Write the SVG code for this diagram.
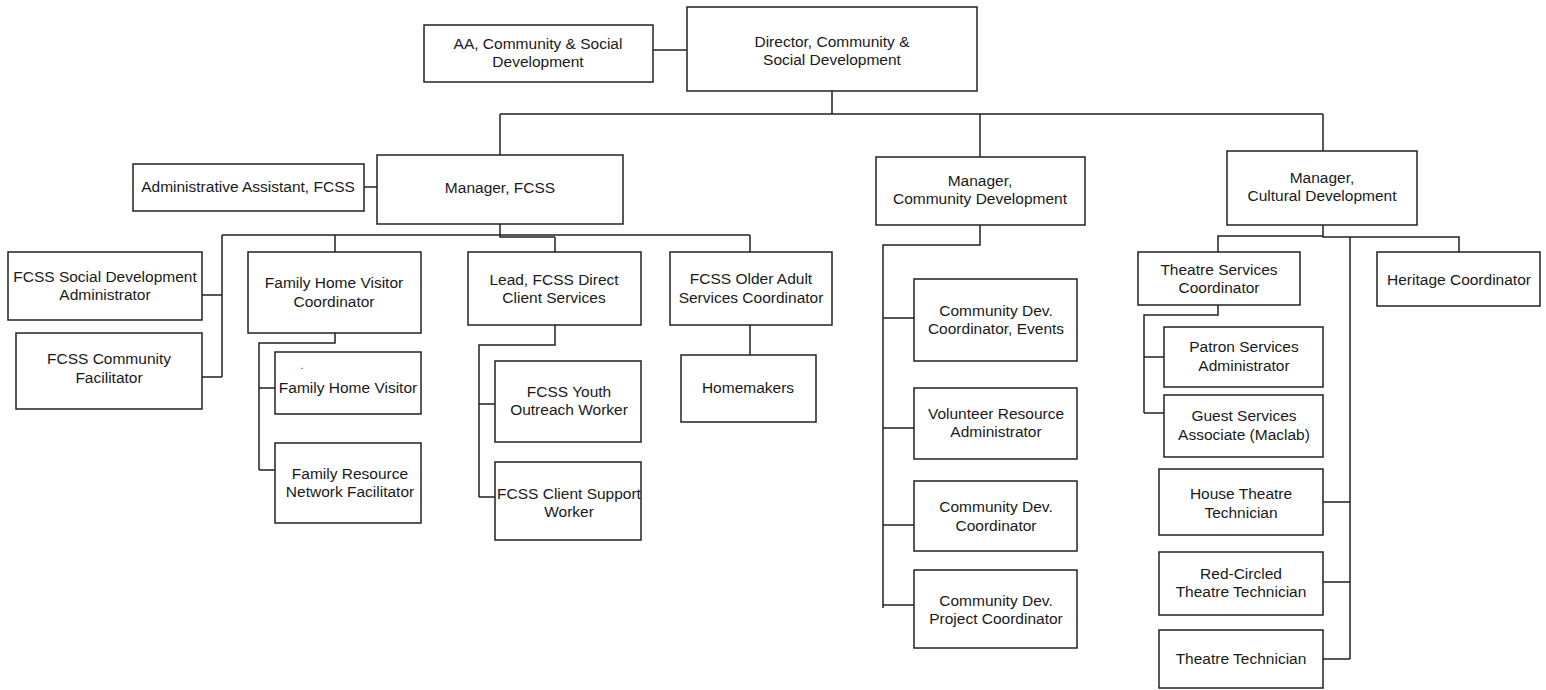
<svg xmlns="http://www.w3.org/2000/svg" width="1546" height="690" viewBox="0 0 1546 690">
  <style>
    .box rect { fill: #ffffff; stroke: #222222; stroke-width: 1.5; }
    .box text { font-family: "Liberation Sans", Arial, sans-serif; font-size: 15.5px; fill: #1a1a1a; text-anchor: middle; }
    #connectors path { fill: none; stroke: #222222; stroke-width: 1.5; }
  </style>
  <rect width="1546" height="690" fill="#ffffff"/>

  <!-- reporting lines -->
  <g id="connectors">
    <path d="M653,50 H687"/>
    <path d="M832,91 V114 M500,114 H1323 M500,114 V155 M980,114 V157 M1323,114 V151"/>
    <path d="M364,187 H377"/>
    <path d="M500,224 V235 M222,235 H750 M500,224 V237 H555 M335,235 V252 M555,237 V252 M750,235 V252"/>
    <path d="M222,235 V377 M202,295 H222 M202,377 H222"/>
    <path d="M335,333 V343 H259 V470 M259,388 H275 M259,470 H275"/>
    <path d="M555,325 V345 H479 V497 M479,404 H495 M479,497 H495"/>
    <path d="M750,325 V355"/>
    <path d="M980,225 V245 H883 V608 M883,318 H914 M883,428 H914 M883,525 H914 M883,605 H916"/>
    <path d="M1323,225 V236 H1218 V252 M1323,236 V237 H1459 V252 M1350,237 V659"/>
    <path d="M1218,305 V315 H1144 V413 M1144,357 H1164 M1144,413 H1164"/>
    <path d="M1323,502 H1350 M1323,582 H1350 M1323,659 H1350"/>
  </g>

  <g id="director" class="box"><rect x="687" y="7" width="290" height="84"/><text x="832" y="47">Director, Community &amp;</text><text x="832" y="65">Social Development</text></g>
  <g id="aa-csd" class="box"><rect x="424" y="25" width="229" height="57"/><text x="538" y="49">AA, Community &amp; Social</text><text x="538" y="67">Development</text></g>

  <g id="manager-fcss" class="box"><rect x="377" y="155" width="246" height="69"/><text x="500" y="193">Manager, FCSS</text></g>
  <g id="admin-fcss" class="box"><rect x="133" y="164" width="231" height="47"/><text x="248" y="192">Administrative Assistant, FCSS</text></g>
  <g id="manager-cd" class="box"><rect x="876" y="157" width="209" height="68"/><text x="980" y="186">Manager,</text><text x="980" y="204">Community Development</text></g>
  <g id="manager-cult" class="box"><rect x="1227" y="151" width="190" height="74"/><text x="1322" y="183">Manager,</text><text x="1322" y="201">Cultural Development</text></g>

  <g id="fcss-sda" class="box"><rect x="8" y="252" width="194" height="68"/><text x="105" y="282">FCSS Social Development</text><text x="105" y="300">Administrator</text></g>
  <g id="fcss-cf" class="box"><rect x="16" y="333" width="186" height="76"/><text x="109" y="364">FCSS Community</text><text x="109" y="383">Facilitator</text></g>
  <g id="fhv-coord" class="box"><rect x="248" y="252" width="173" height="81"/><text x="334" y="288">Family Home Visitor</text><text x="334" y="307">Coordinator</text></g>
  <g id="lead-dcs" class="box"><rect x="468" y="252" width="173" height="73"/><text x="554" y="285">Lead, FCSS Direct</text><text x="554" y="303">Client Services</text></g>
  <g id="older-adult" class="box"><rect x="670" y="252" width="162" height="73"/><text x="751" y="284">FCSS Older Adult</text><text x="751" y="303">Services Coordinator</text></g>

  <g id="fhv" class="box"><rect x="275" y="352" width="146" height="62"/><text x="302" y="369" style="font-size:10px">.</text><text x="348" y="393">Family Home Visitor</text></g>
  <g id="frn" class="box"><rect x="275" y="443" width="146" height="80"/><text x="350" y="479">Family Resource</text><text x="350" y="497">Network Facilitator</text></g>
  <g id="youth" class="box"><rect x="495" y="361" width="146" height="81"/><text x="569" y="397">FCSS Youth</text><text x="569" y="415">Outreach Worker</text></g>
  <g id="client-support" class="box"><rect x="495" y="462" width="146" height="78"/><text x="569" y="499">FCSS Client Support</text><text x="569" y="517">Worker</text></g>
  <g id="homemakers" class="box"><rect x="681" y="355" width="135" height="67"/><text x="748" y="393">Homemakers</text></g>

  <g id="cd-events" class="box"><rect x="914" y="279" width="163" height="82"/><text x="996" y="316">Community Dev.</text><text x="996" y="334">Coordinator, Events</text></g>
  <g id="volunteer" class="box"><rect x="914" y="388" width="163" height="71"/><text x="996" y="419">Volunteer Resource</text><text x="996" y="437">Administrator</text></g>
  <g id="cd-coord" class="box"><rect x="914" y="481" width="163" height="70"/><text x="996" y="512">Community Dev.</text><text x="996" y="531">Coordinator</text></g>
  <g id="cd-project" class="box"><rect x="914" y="570" width="163" height="78"/><text x="996" y="606">Community Dev.</text><text x="996" y="624">Project Coordinator</text></g>

  <g id="theatre-services" class="box"><rect x="1138" y="252" width="162" height="53"/><text x="1219" y="275">Theatre Services</text><text x="1219" y="293">Coordinator</text></g>
  <g id="heritage" class="box"><rect x="1377" y="252" width="163" height="54"/><text x="1459" y="285">Heritage Coordinator</text></g>
  <g id="patron" class="box"><rect x="1164" y="327" width="159" height="60"/><text x="1244" y="352">Patron Services</text><text x="1244" y="371">Administrator</text></g>
  <g id="guest" class="box"><rect x="1164" y="395" width="159" height="62"/><text x="1244" y="421">Guest Services</text><text x="1244" y="440">Associate (Maclab)</text></g>
  <g id="house-tech" class="box"><rect x="1159" y="469" width="164" height="66"/><text x="1241" y="499">House Theatre</text><text x="1241" y="518">Technician</text></g>
  <g id="red-circled" class="box"><rect x="1159" y="552" width="164" height="63"/><text x="1241" y="579">Red-Circled</text><text x="1241" y="597">Theatre Technician</text></g>
  <g id="theatre-tech" class="box"><rect x="1159" y="630" width="164" height="58"/><text x="1241" y="664">Theatre Technician</text></g>
</svg>
